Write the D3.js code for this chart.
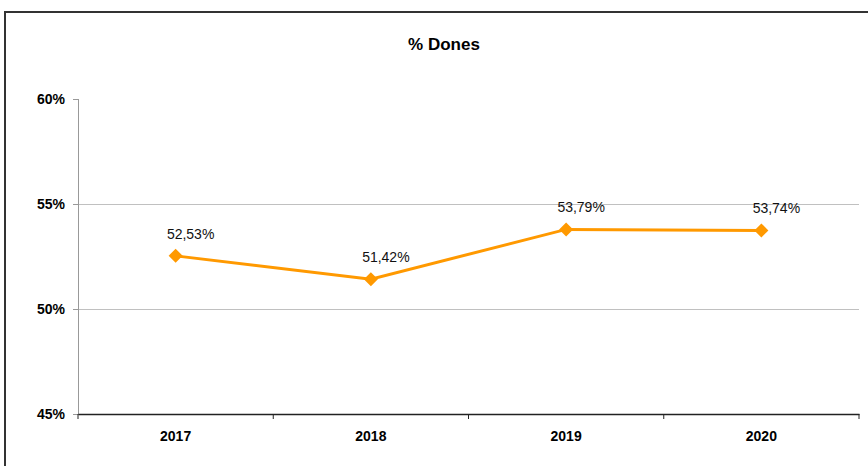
<!DOCTYPE html>
<html><head><meta charset="utf-8">
<script src="https://cdn.jsdelivr.net/npm/d3@7"></script>
<style>
body{margin:0;background:#fff;}
svg{display:block;}
</style></head>
<body>
<script>
const categories = ["2017","2018","2019","2020"];
const values = [52.53, 51.42, 53.79, 53.74];
const yTicks = [45, 50, 55, 60];
const title = "% Dones";

const W = 868, H = 466;
const margin = {left:78, right:9, top:99, bottom:52};
const svg = d3.select("body").append("svg").attr("width", W).attr("height", H);

const narrow = "'Liberation Sans Narrow','Arial Narrow','Liberation Sans',Arial,sans-serif";
const fmt = v => v.toFixed(2).replace(".", ",") + "%";

// frame
svg.append("rect").attr("x",5).attr("y",12).attr("width",W+10).attr("height",H+10)
  .attr("fill","none").attr("stroke","#333").attr("stroke-width",2);

const x = d3.scaleBand().domain(categories).range([margin.left, W-margin.right]);
const y = d3.scaleLinear().domain([45,60]).range([H-margin.bottom, margin.top]);

// gridlines
svg.append("g").selectAll("line").data(yTicks.filter(t=>t>45 && t<60)).join("line")
  .attr("x1", margin.left).attr("x2", W-margin.right)
  .attr("y1", d=>y(d)).attr("y2", d=>y(d))
  .attr("stroke","#c0c0c0").attr("stroke-width",1).attr("shape-rendering","crispEdges");

// y axis
const yAxis = svg.append("g").attr("transform",`translate(${margin.left},0)`)
  .call(d3.axisLeft(y).tickValues(yTicks).tickFormat(d=>d+"%").tickSize(5).tickPadding(8));
yAxis.select(".domain").attr("stroke","#999").attr("shape-rendering","crispEdges");
yAxis.selectAll(".tick line").attr("stroke","#999").attr("shape-rendering","crispEdges");
yAxis.selectAll("text").attr("font-family",narrow).attr("font-weight","bold")
  .attr("font-size",14).attr("fill","#000");

// x axis
const xAxis = svg.append("g").attr("transform",`translate(0,${y(45)})`)
  .call(d3.axisBottom(x).tickSize(0).tickPadding(17));
xAxis.select(".domain").attr("stroke","#222").attr("stroke-width",1.5);
xAxis.selectAll("text").attr("font-family",narrow).attr("font-weight","bold")
  .attr("font-size",14).attr("fill","#000");
// boundary ticks
const bounds = categories.map(c=>x(c)).concat([x(categories[categories.length-1])+x.bandwidth()]);
svg.append("g").selectAll("line").data(bounds).join("line")
  .attr("x1",d=>d).attr("x2",d=>d).attr("y1",y(45)).attr("y2",y(45)+5)
  .attr("stroke","#222").attr("stroke-width",1);

// title
svg.append("text").attr("x",444).attr("y",50).attr("text-anchor","middle")
  .attr("font-family",narrow).attr("font-weight","bold").attr("font-size",17)
  .text(title);

// line
const cx = (d,i)=> x(categories[i]) + x.bandwidth()/2;
svg.append("path").datum(values)
  .attr("d", d3.line().x(cx).y(d=>y(d)))
  .attr("fill","none").attr("stroke","#FF9900").attr("stroke-width",3);

// markers
svg.append("g").selectAll("path").data(values).join("path")
  .attr("transform",(d,i)=>`translate(${cx(d,i)},${y(d)})`)
  .attr("d", d3.symbol(d3.symbolDiamond2, 125)())
  .attr("fill","#FF9900");

// labels
svg.append("g").selectAll("text").data(values).join("text")
  .attr("x",(d,i)=>cx(d,i)+15).attr("y",d=>y(d)-17)
  .attr("text-anchor","middle").attr("font-family","'Liberation Sans',Arial,sans-serif")
  .attr("font-size",14).attr("fill","#111").text(fmt);
</script>
</body></html>
